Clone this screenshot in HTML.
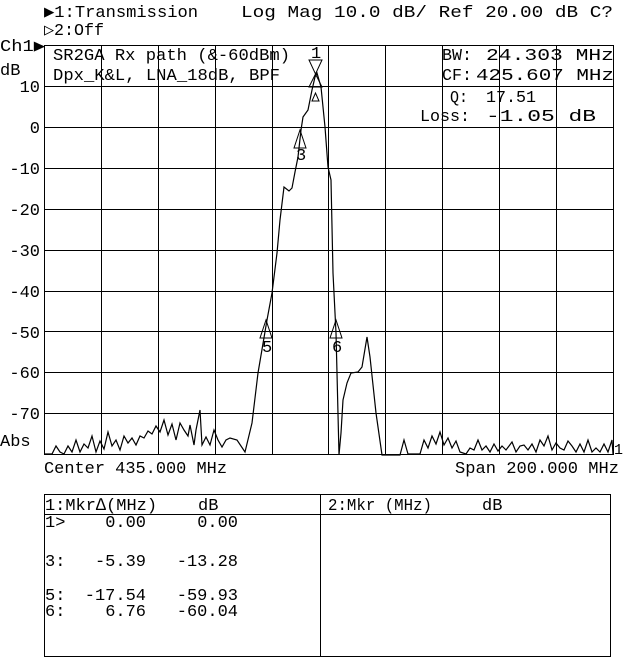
<!DOCTYPE html>
<html><head><meta charset="utf-8"><style>
html,body{margin:0;padding:0;background:#fff}
svg{display:block}
text{font-family:"Liberation Mono",monospace;font-size:17px;fill:#000}
</style></head><body>
<svg width="640" height="659" viewBox="0 0 640 659" xmlns="http://www.w3.org/2000/svg">
<g stroke="#000" stroke-width="1" fill="none" shape-rendering="crispEdges">
<rect x="44.5" y="45.5" width="569" height="409"/>
<path d="M101.5 45V454M158.5 45V454M215.5 45V454M272.5 45V454M328.5 45V454M385.5 45V454M442.5 45V454M499.5 45V454M556.5 45V454"/>
<path d="M44 86.5H613M44 127.5H613M44 168.5H613M44 209.5H613M44 250.5H613M44 291.5H613M44 331.5H613M44 372.5H613M44 413.5H613"/>
<rect x="44.5" y="494.5" width="566" height="162"/>
<path d="M44 514.5H610M320.5 494V657"/>
</g>
<polyline fill="none" stroke="#000" stroke-width="1.2" points="44,454 52,454 56,446 60,452 64,454 68,446 72,452 76,440 80,452 84,444 88,448 92,436 96,452 100,441 104,449 108,432 112,446 116,440 120,450 124,436 128,443 132,438 136,445 140,436 144,438 148,431 152,434 156,426 160,432 164,420 168,435 172,424 176,440 180,423 184,430 188,436 190,425 194,445 196,430 200,410 202,445 206,437 210,445 214,430 218,440 222,447 226,440 230,438 237,440 245,452 252,423 258,373 267,320 272,293 277,253 280,220 284,187 289,191 292,188 295,172 298,157 301,130 303,117 308,110 312,90 315,77 317,73 321,87 325,127 328,167 331,180 333,273 336,333 337,373 339,455 341,433 343,400 347,383 351,373 358,372 362,367 367,337 370,357 376,413 382,455 400,455 404,440 408,454 420,454 424,440 428,448 432,436 436,444 440,432 444,445 448,438 452,448 456,441 460,452 466,454 470,448 474,450 478,440 482,450 486,446 490,452 494,444 498,451 502,446 506,450 512,442 516,452 520,446 524,445 528,450 532,444 536,452 540,440 544,446 548,436 552,450 556,443 560,448 564,450 568,441 572,446 576,452 580,444 584,452 588,440 592,452 596,448 600,452 604,444 608,452 612,440 613,454"/>
<g fill="none" stroke="#000" stroke-width="1">
<path d="M309 60H322L315.5 74Z"/>
<path d="M309 87H322L315.5 74Z"/>
<path d="M312 101H319L315.5 93Z"/>
<path d="M294 148H306L300 130Z"/>
<path d="M260 338H272L266 320Z"/>
<path d="M330 338H342L336 320Z"/>
</g>
<g style="font-size:13px">
<text x="311" y="58">1</text>
<text x="296" y="160">3</text>
<text x="262" y="352">5</text>
<text x="332" y="352">6</text>
</g>
<text x="44" y="17" textLength="154" lengthAdjust="spacingAndGlyphs">▶1:Transmission</text>
<text x="241" y="17" textLength="372" lengthAdjust="spacingAndGlyphs">Log Mag  10.0 dB/  Ref  20.00 dB   C?</text>
<text x="44" y="35" textLength="60" lengthAdjust="spacingAndGlyphs">▷2:Off</text>
<text x="0" y="51" textLength="45" lengthAdjust="spacingAndGlyphs">Ch1▶</text>
<text x="0" y="75">dB</text>
<text x="53" y="60" textLength="237" lengthAdjust="spacingAndGlyphs">SR2GA Rx path (&amp;-60dBm)</text>
<text x="53" y="80" textLength="227" lengthAdjust="spacingAndGlyphs">Dpx_K&amp;L, LNA_18dB, BPF</text>
<text x="442" y="60" textLength="30" lengthAdjust="spacingAndGlyphs">BW:</text>
<text x="442" y="80" textLength="30" lengthAdjust="spacingAndGlyphs">CF:</text>
<text x="486" y="60" textLength="128" lengthAdjust="spacingAndGlyphs">24.303 MHz</text>
<text x="476" y="80" textLength="138" lengthAdjust="spacingAndGlyphs">425.607 MHz</text>
<text x="450" y="102" textLength="18" lengthAdjust="spacingAndGlyphs">Q:</text>
<text x="420" y="121" textLength="50" lengthAdjust="spacingAndGlyphs">Loss:</text>
<text x="486" y="102" textLength="50" lengthAdjust="spacingAndGlyphs">17.51</text>
<text x="486" y="121" textLength="110" lengthAdjust="spacingAndGlyphs">-1.05 dB</text>
<g text-anchor="end">
<text x="40" y="92">10</text>
<text x="40" y="133">0</text>
<text x="40" y="174">-10</text>
<text x="40" y="215">-20</text>
<text x="40" y="256">-30</text>
<text x="40" y="297">-40</text>
<text x="40" y="338">-50</text>
<text x="40" y="378">-60</text>
<text x="40" y="419">-70</text>
</g>
<text x="0" y="446">Abs</text>
<text x="614" y="454" style="font-size:15px">1</text>
<text x="44" y="473" textLength="183" lengthAdjust="spacingAndGlyphs">Center 435.000 MHz</text>
<text x="455" y="473" textLength="164" lengthAdjust="spacingAndGlyphs">Span 200.000 MHz</text>
<text x="45" y="510" textLength="112" lengthAdjust="spacingAndGlyphs">1:Mkr∆(MHz)</text>
<text x="198" y="510">dB</text>
<text x="328" y="510" textLength="104" lengthAdjust="spacingAndGlyphs">2:Mkr (MHz)</text>
<text x="482" y="510">dB</text>
<text x="45" y="527">1&gt;</text>
<text x="146" y="527" text-anchor="end">0.00</text>
<text x="238" y="527" text-anchor="end">0.00</text>
<text x="45" y="566">3:</text>
<text x="146" y="566" text-anchor="end">-5.39</text>
<text x="238" y="566" text-anchor="end">-13.28</text>
<text x="45" y="600">5:</text>
<text x="146" y="600" text-anchor="end">-17.54</text>
<text x="238" y="600" text-anchor="end">-59.93</text>
<text x="45" y="616">6:</text>
<text x="146" y="616" text-anchor="end">6.76</text>
<text x="238" y="616" text-anchor="end">-60.04</text>
</svg>
</body></html>
